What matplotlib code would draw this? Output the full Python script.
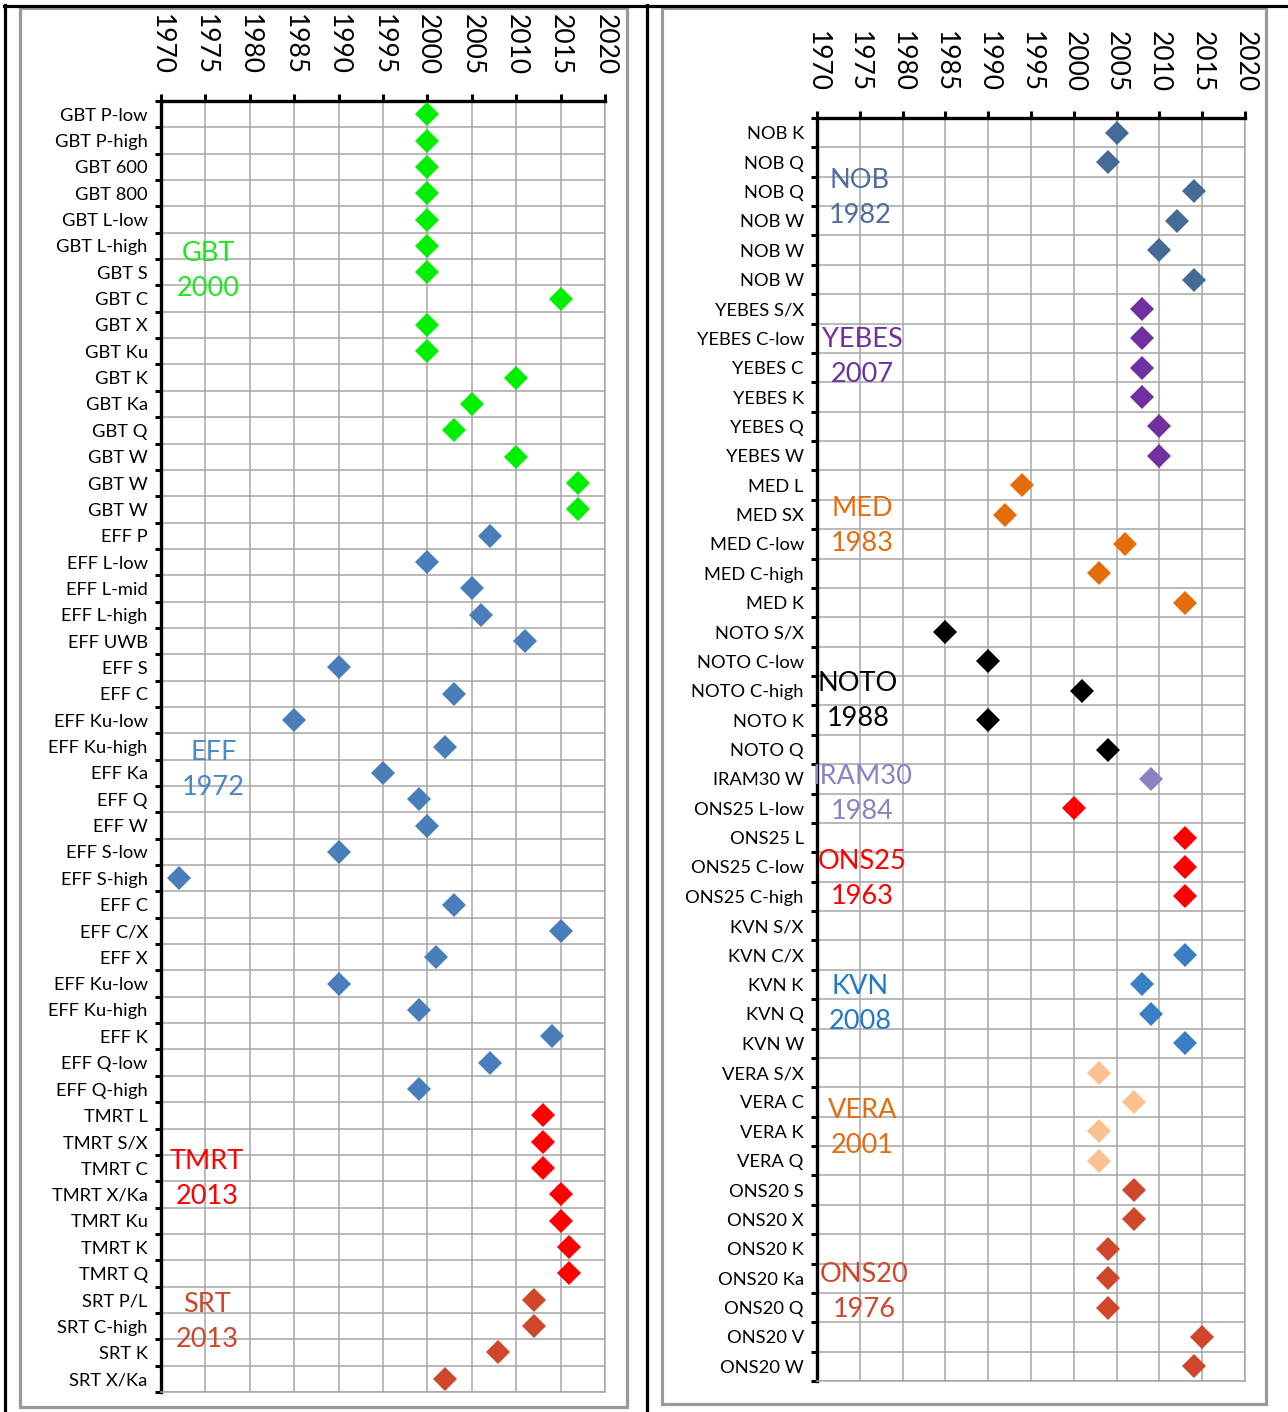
import numpy as np
import matplotlib
matplotlib.use("Agg")
import matplotlib.pyplot as plt
from matplotlib.lines import Line2D
from matplotlib.patches import Rectangle

plt.rcParams['font.family'] = ['Lato', 'DejaVu Sans']

# ---------------- données (panneau gauche) ----------------
left_labels = ["GBT P-low", "GBT P-high", "GBT 600", "GBT 800", "GBT L-low", "GBT L-high",
               "GBT S", "GBT C", "GBT X", "GBT Ku", "GBT K", "GBT Ka", "GBT Q", "GBT W",
               "GBT W", "GBT W",
               "EFF P", "EFF L-low", "EFF L-mid", "EFF L-high", "EFF UWB", "EFF S", "EFF C",
               "EFF Ku-low", "EFF Ku-high", "EFF Ka", "EFF Q", "EFF W", "EFF S-low",
               "EFF S-high", "EFF C", "EFF C/X", "EFF X", "EFF Ku-low", "EFF Ku-high",
               "EFF K", "EFF Q-low", "EFF Q-high",
               "TMRT L", "TMRT S/X", "TMRT C", "TMRT X/Ka", "TMRT Ku", "TMRT K", "TMRT Q",
               "SRT P/L", "SRT C-high", "SRT K", "SRT X/Ka"]
left_years = [2000, 2000, 2000, 2000, 2000, 2000, 2000, 2015, 2000, 2000, 2010, 2005, 2003,
              2010, 2017, 2017,
              2007, 2000, 2005, 2006, 2011, 1990, 2003, 1985, 2002, 1995, 1999, 2000, 1990,
              1972, 2003, 2015, 2001, 1990, 1999, 2014, 2007, 1999,
              2013, 2013, 2013, 2015, 2015, 2016, 2016,
              2012, 2012, 2008, 2002]
left_groups = ["GBT"] * 16 + ["EFF"] * 22 + ["TMRT"] * 7 + ["SRT"] * 4

# ---------------- données (panneau droit) ----------------
right_labels = ["NOB K", "NOB Q", "NOB Q", "NOB W", "NOB W", "NOB W",
                "YEBES S/X", "YEBES C-low", "YEBES C", "YEBES K", "YEBES Q", "YEBES W",
                "MED L", "MED SX", "MED C-low", "MED C-high", "MED K",
                "NOTO S/X", "NOTO C-low", "NOTO C-high", "NOTO K", "NOTO Q",
                "IRAM30 W",
                "ONS25 L-low", "ONS25 L", "ONS25 C-low", "ONS25 C-high",
                "KVN S/X", "KVN C/X", "KVN K", "KVN Q", "KVN W",
                "VERA S/X", "VERA C", "VERA K", "VERA Q",
                "ONS20 S", "ONS20 X", "ONS20 K", "ONS20 Ka", "ONS20 Q", "ONS20 V", "ONS20 W"]
right_years = [2005, 2004, 2014, 2012, 2010, 2014,
               2008, 2008, 2008, 2008, 2010, 2010,
               1994, 1992, 2006, 2003, 2013,
               1985, 1990, 2001, 1990, 2004,
               2009,
               2000, 2013, 2013, 2013,
               np.nan, 2013, 2008, 2009, 2013,
               2003, 2007, 2003, 2003,
               2007, 2007, 2004, 2004, 2004, 2015, 2014]
right_groups = (["NOB"] * 6 + ["YEBES"] * 6 + ["MED"] * 5 + ["NOTO"] * 5 + ["IRAM30"]
                + ["ONS25"] * 4 + ["KVN"] * 5 + ["VERA"] * 4 + ["ONS20"] * 7)

# couleurs des marqueurs et des textes
marker_color = {"GBT": "#00ee00", "EFF": "#4a7ebb", "TMRT": "#ff0000", "SRT": "#d0462a",
                "NOB": "#456a96", "YEBES": "#7030a0", "MED": "#e46c0a", "NOTO": "#000000",
                "IRAM30": "#8f80c4", "ONS25": "#ff0000", "KVN": "#3a7fc4",
                "VERA": "#fac08f", "ONS20": "#d0462a"}
text_color = dict(marker_color, GBT="#1ee61e", VERA="#e46c0a", EFF="#4a86c8",
                  KVN="#1f78c8", NOB="#4f6e9e")

# étiquettes des groupes : (nom, année, x en années, y en lignes)
left_notes = [("GBT", "2000", 1975.3, 6.47), ("EFF", "1972", 1975.9, 25.39),
              ("TMRT", "2013", 1975.2, 40.9), ("SRT", "2013", 1975.2, 46.34)]
right_notes = [("NOB", "1982", 1975.0, 2.71), ("YEBES", "2007", 1975.3, 8.15),
               ("MED", "1983", 1975.3, 13.9), ("NOTO", "1988", 1974.8, 19.85),
               ("IRAM30", "1984", 1975.3, 23.03), ("ONS25", "1963", 1975.3, 25.9),
               ("KVN", "2008", 1975.0, 30.17), ("VERA", "2001", 1975.3, 34.39),
               ("ONS20", "1976", 1975.5, 39.96)]

years_ticks = np.arange(1970, 2021, 5)

W, H = 1288, 1412
fig = plt.figure(figsize=(W / 100, H / 100), dpi=100)


def px_box(x0, y0, x1, y1):
    # pixels -> coordonnées figure [gauche, bas, largeur, hauteur]
    return [x0 / W, 1 - y1 / H, (x1 - x0) / W, (y1 - y0) / H]


def panel(rect, labels, years, groups, notes, xpad):
    ax = fig.add_axes(rect)
    n = len(labels)
    pos = np.arange(n) + 0.5
    for g in dict.fromkeys(groups):
        idx = [i for i, gg in enumerate(groups) if gg == g]
        ax.plot([years[i] for i in idx], pos[idx], "D", ms=11.8, mew=0,
                color=marker_color[g], zorder=3)
    ax.set_xlim(1970, 2020)
    ax.set_ylim(n, 0)
    ax.xaxis.tick_top()
    ax.set_xticks(years_ticks)
    ax.set_xticklabels([str(y) for y in years_ticks], rotation=270, fontsize=19)
    ax.tick_params(axis="x", direction="out", length=5, width=2.2, pad=xpad)
    ax.set_yticks(np.arange(n + 1))
    ax.set_yticklabels([])
    ax.set_yticks(pos, minor=True)
    ax.set_yticklabels(labels, minor=True, fontsize=13.2)
    ax.tick_params(axis="y", which="major", direction="out", length=4, width=2.2)
    ax.tick_params(axis="y", which="minor", length=0, pad=9.5)
    ax.grid(True, which="major", color="#a6a6a6", lw=1.1, zorder=0)
    for s in ("left", "top"):
        ax.spines[s].set_linewidth(2.4)
        ax.spines[s].set_color("black")
    for s in ("right", "bottom"):
        ax.spines[s].set_linewidth(1.1)
        ax.spines[s].set_color("#a6a6a6")
    for name, yr, x, y in notes:
        ax.text(x, y, name + "\n" + yr, color=text_color[name], fontsize=19.5,
                ha="center", va="center", linespacing=1.5, zorder=4)
    return ax


panel(px_box(161, 101, 605, 1392), left_labels, left_years, left_groups, left_notes, 13.5)
panel(px_box(817, 118, 1245, 1381), right_labels, right_years, right_groups, right_notes, 13.5)

# cadres du tableau
black = dict(color="black", lw=2.3, transform=fig.transFigure)
fig.add_artist(Line2D([4 / W, 1], [1 - 5.5 / H] * 2, **black))
fig.add_artist(Line2D([4.5 / W] * 2, [0, 1 - 5 / H], **black))
fig.add_artist(Line2D([646.5 / W] * 2, [0, 1 - 5 / H], **black))
for x0, y0, x1, y1 in [(20, 8, 627, 1407), (662, 8, 1266, 1404)]:
    fig.add_artist(Rectangle((x0 / W, 1 - y1 / H), (x1 - x0) / W, (y1 - y0) / H,
                             fill=False, ec="#9a9a9a", lw=2.3, transform=fig.transFigure))

fig.savefig("out.png", dpi=100)
